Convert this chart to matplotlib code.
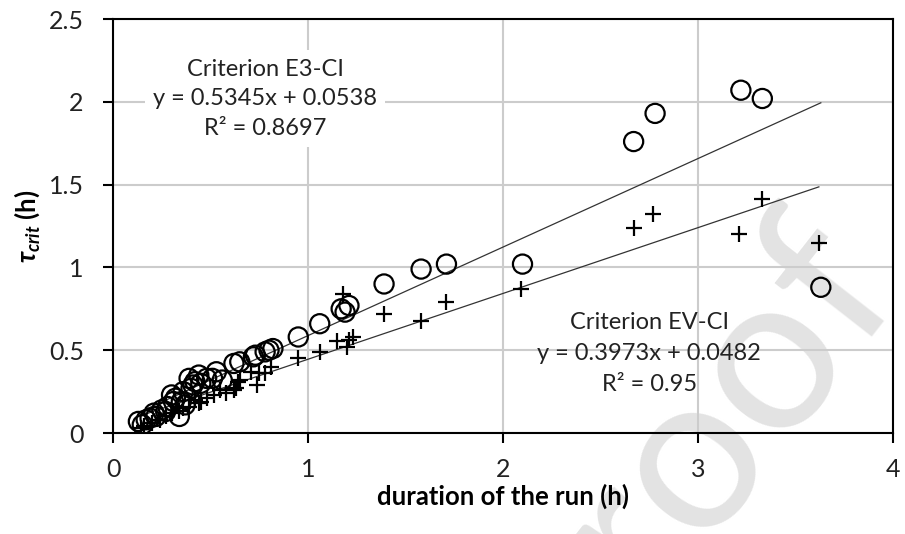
import numpy as np
import matplotlib
matplotlib.use("Agg")
import matplotlib.pyplot as plt

plt.rcParams["font.family"] = ["Lato", "DejaVu Sans"]
plt.rcParams["mathtext.fontset"] = "custom"
plt.rcParams["mathtext.rm"] = "Lato:bold"
plt.rcParams["mathtext.it"] = "Lato:italic:bold"
plt.rcParams["mathtext.bf"] = "Lato:bold"
plt.rcParams["mathtext.fallback"] = "stixsans"

# Criterion E3-CI (circles)
e3_x = [0.13, 0.15, 0.17, 0.19, 0.21, 0.22, 0.25, 0.27, 0.28, 0.30, 0.31, 0.32, 0.34,
        0.35, 0.36, 0.37, 0.39, 0.40, 0.41, 0.42, 0.44, 0.45, 0.48, 0.51, 0.53, 0.56,
        0.62, 0.65, 0.72, 0.73, 0.78, 0.80, 0.82, 0.95, 1.06, 1.17, 1.19, 1.21,
        1.39, 1.58, 1.71, 2.10, 2.67, 2.78, 3.22, 3.33, 3.63]
e3_y = [0.07, 0.05, 0.08, 0.09, 0.12, 0.10, 0.14, 0.13, 0.16, 0.23, 0.19, 0.21, 0.10,
        0.19, 0.25, 0.17, 0.33, 0.27, 0.29, 0.31, 0.35, 0.30, 0.33, 0.33, 0.37, 0.32,
        0.42, 0.43, 0.46, 0.47, 0.49, 0.50, 0.51, 0.58, 0.66, 0.75, 0.73, 0.77,
        0.90, 0.99, 1.02, 1.02, 1.76, 1.93, 2.07, 2.02, 0.88]

# Criterion EV-CI (plus)
ev_x = [0.145, 0.16, 0.20, 0.24, 0.27, 0.30, 0.34, 0.36, 0.39, 0.42, 0.44, 0.45, 0.48,
        0.52, 0.55, 0.58, 0.62, 0.63, 0.64, 0.65, 0.71, 0.74, 0.75, 0.78, 0.81, 0.95,
        1.06, 1.15, 1.18, 1.20, 1.21, 1.23, 1.39, 1.58, 1.71, 2.09, 2.67, 2.77,
        3.21, 3.33, 3.62]
ev_y = [0.03, 0.04, 0.06, 0.08, 0.10, 0.12, 0.13, 0.15, 0.16, 0.20, 0.18, 0.19, 0.21,
        0.23, 0.26, 0.24, 0.26, 0.27, 0.31, 0.32, 0.37, 0.29, 0.36, 0.36, 0.40, 0.45,
        0.49, 0.555, 0.84, 0.52, 0.56, 0.58, 0.72, 0.675, 0.79, 0.87, 1.235, 1.325,
        1.20, 1.415, 1.145]

e3_fit = (0.5345, 0.0538)
ev_fit = (0.3973, 0.0482)

fig = plt.figure(figsize=(9.05, 5.34), dpi=100)
ax = fig.add_axes([0.1249, 0.1891, 0.8618, 0.7753])
ax.set_facecolor("none")

# watermark, drawn behind the axes; baseline starts below the figure
fig.text(0.623, -0.322, "Proof", rotation=52, rotation_mode="anchor",
         fontsize=160, color="#e3e3e3", ha="left", va="baseline", zorder=-1)

ax.grid(True, color="#cccccc", linewidth=1.5, zorder=0)

ax.scatter(e3_x, e3_y, s=190, facecolors="none", edgecolors="black",
           linewidths=1.6, zorder=3)
ax.scatter(ev_x, ev_y, s=130, marker="+", color="black", linewidths=1.6, zorder=3)

for xs, (m, b) in ((e3_x, e3_fit), (ev_x, ev_fit)):
    xl = np.array([min(xs), max(xs)])
    ax.plot(xl, m * xl + b, color="#333333", linewidth=0.9, zorder=2)

ax.text(0.78, 2.02, "Criterion E3-CI\ny = 0.5345x + 0.0538\nR² = 0.8697",
        ha="center", va="center", fontsize=17, color="#222222", linespacing=1.5,
        bbox=dict(facecolor="white", edgecolor="none", pad=6), zorder=4)
ax.text(2.75, 0.48, "Criterion EV-CI\ny = 0.3973x + 0.0482\nR² = 0.95",
        ha="center", va="center", fontsize=17, color="#222222", linespacing=1.6,
        zorder=4)

ax.set_xlim(0, 4)
ax.set_ylim(0, 2.5)
ax.set_xticks([0, 1, 2, 3, 4])
ax.set_yticks([0, 0.5, 1, 1.5, 2, 2.5])
ax.set_yticklabels(["0", "0.5", "1", "1.5", "2", "2.5"])
for s in ax.spines.values():
    s.set_linewidth(1.5)
    s.set_color("black")
ax.tick_params(direction="out", length=7, width=1.5, labelsize=18,
               labelcolor="#222222")
ax.tick_params(axis="x", pad=11)
ax.tick_params(axis="y", pad=14)

ax.set_xlabel("duration of the run (h)", fontsize=18.5, fontweight="bold", labelpad=2)
ax.set_ylabel(r"$\tau_{crit}$ (h)", fontsize=18.5, fontweight="bold", labelpad=5)

fig.savefig("out.png", dpi=100)
